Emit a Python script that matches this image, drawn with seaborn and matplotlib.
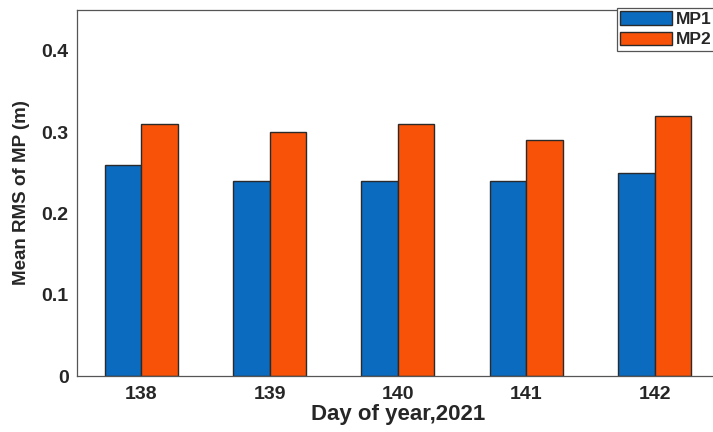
import matplotlib
matplotlib.use("Agg")
import matplotlib.pyplot as plt
import seaborn as sns
import pandas as pd

days = ["138", "139", "140", "141", "142"]
mp1 = [0.26, 0.24, 0.24, 0.24, 0.25]
mp2 = [0.31, 0.30, 0.31, 0.29, 0.32]
series = ["MP1", "MP2"]
colors = ["#0A6BBF", "#F75208"]
yticks = [0, 0.1, 0.2, 0.3, 0.4]
ytick_labels = ["0", "0.1", "0.2", "0.3", "0.4"]

df = pd.DataFrame({
    "day": days * 2,
    "value": mp1 + mp2,
    "series": [series[0]] * len(days) + [series[1]] * len(days),
})

sns.set_style("white")
plt.rcParams["font.family"] = ["Liberation Sans", "DejaVu Sans"]
plt.rcParams["font.weight"] = "bold"
text_color = "#262626"

fig = plt.figure(figsize=(7.13, 4.32), dpi=100)
# the axes run slightly past the right edge of the canvas
ax = fig.add_axes([0.108, 0.1296, 0.9, 0.847])

sns.barplot(data=df, x="day", y="value", hue="series", order=days,
            hue_order=series, palette=colors, width=0.57, saturation=1,
            edgecolor="#2a2a2a", linewidth=1.0, ax=ax, legend=False)

ax.set_xlim(-0.5, 4.5)
ax.set_ylim(0, 0.45)
ax.set_yticks(yticks)
ax.set_yticklabels(ytick_labels)
ax.tick_params(axis="both", direction="in", length=4, width=0.8,
               colors="#555555", labelcolor=text_color, labelsize=14, pad=6)
ax.tick_params(axis="x", length=0, pad=7)
for lab in ax.get_xticklabels() + ax.get_yticklabels():
    lab.set_fontweight("bold")

for s in ax.spines.values():
    s.set_color("#555555")
    s.set_linewidth(0.9)

ax.set_xlabel("Day of year,2021", fontsize=16, fontweight="bold",
              color=text_color, labelpad=1)
ax.set_ylabel("Mean RMS of MP (m)", fontsize=13.5, fontweight="bold",
              color=text_color, labelpad=8)

handles = [plt.Rectangle((0, 0), 1, 1, facecolor=c, edgecolor="#2a2a2a",
                         linewidth=1.0) for c in colors]
leg = fig.legend(handles, series, loc="upper left",
                 bbox_to_anchor=(0.865, 0.982), fancybox=False,
                 framealpha=1, edgecolor="#555555", fontsize=12.5,
                 handlelength=3.0, handleheight=0.85, handletextpad=0.2,
                 labelspacing=0.25, borderpad=0.2, borderaxespad=0)
leg.get_frame().set_linewidth(0.9)
for t in leg.get_texts():
    t.set_fontweight("bold")
    t.set_color(text_color)

fig.savefig("out.png", dpi=100)
